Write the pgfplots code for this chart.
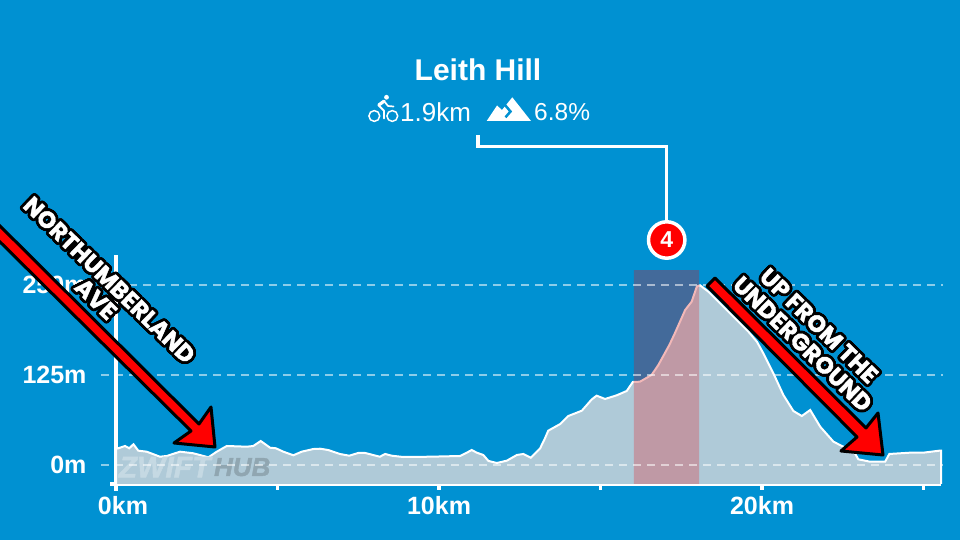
\documentclass[border=0pt]{standalone}
\usepackage{fontspec}
\usepackage{pgfplots}
\usepackage{pgfplotstable}
\usepackage{contour}
\pgfplotsset{compat=1.18}
\setmainfont{Liberation Sans}
\newfontfamily\pop[BoldFeatures={FakeBold=1.6}]{Poppins}
\newfontfamily\wmfont[BoldItalicFeatures={FakeBold=1.5}]{Liberation Sans}
\contourlength{2.8pt}
\contournumber{24}
\definecolor{bg}{HTML}{0091D2}
\definecolor{areafill}{HTML}{AFCAD8}
\definecolor{hlblue}{HTML}{436A9A}
\definecolor{hlpink}{HTML}{BF99A5}
\definecolor{hlline}{HTML}{F2B8B8}
\definecolor{arrowred}{HTML}{FF0000}
\pgfplotstableread{
km m
0 -26.4
0.00 23.2
0.07 23.2
0.28 26.4
0.41 23.2
0.54 28.8
0.69 19.9
0.95 18.5
1.36 11.5
1.57 12.5
1.98 18.5
2.39 16.3
2.86 10.7
3.12 18.5
3.43 26.4
4.05 25.4
4.25 26.4
4.48 33.3
4.77 24.0
4.95 23.2
5.18 18.5
5.49 13.5
5.75 18.5
6.11 22.2
6.32 22.6
6.57 20.8
6.93 15.3
7.22 12.9
7.50 16.7
7.71 16.7
8.17 11.5
8.33 15.3
8.54 12.9
8.89 11.1
9.72 11.5
10.65 12.5
10.86 17.1
11.01 20.8
11.17 17.1
11.37 13.9
11.53 5.6
11.79 2.8
12.10 6.0
12.41 13.9
12.61 15.3
12.84 10.1
13.13 23.2
13.28 37.1
13.38 47.6
13.75 56.9
14.00 68.0
14.42 75.4
14.73 91.2
14.88 96.3
15.14 91.7
15.50 96.8
15.81 102.8
16.00 115.3
16.22 115.7
16.58 125.0
16.79 138.9
17.13 166.7
17.30 182.9
17.62 215.3
17.82 226.8
17.98 247.6
18.08 249.6
18.34 240.7
19.58 185.1
19.84 171.3
20.04 155.1
20.35 127.4
20.66 97.2
20.97 75.0
21.23 68.0
21.49 76.4
21.80 53.2
22.21 32.4
22.47 26.4
22.83 19.9
22.98 7.9
23.34 4.6
23.81 4.6
23.94 15.3
24.58 17.1
24.99 17.1
25.49 19.9
25.54 19.9
25.54 -26.4
}\profile
\pgfplotstableread{
km m
16.03 -26.4
16.03 115.4
16.22 115.7
16.58 125.0
16.79 138.9
17.13 166.7
17.30 182.9
17.62 215.3
17.82 226.8
17.98 247.6
18.05 249.4
18.05 -26.4
}\climb
\begin{document}
\begin{tikzpicture}
\useasboundingbox (0,0) rectangle (960pt,540pt);
\fill[bg] (0,0) rectangle (960pt,540pt);
\begin{axis}[
  at={(116pt,56pt)}, anchor=south west,
  scale only axis, width=825pt, height=229pt,
  xmin=0, xmax=25.54, ymin=-26.4, ymax=291.7,
  clip=false,
  axis x line=bottom, axis y line=left,
  axis line style={white, line width=3.6pt, -},
  xtick={0,5,10,15,20,25},
  xticklabels={\hspace{14pt}0km,,10km,,20km,},
  ytick={0,125,250},
  yticklabels={0m,125m,250m},
  /pgf/number format/assume math mode=true,
  tick align=outside,
  x tick style={white, line width=3.6pt},
  y tick style={draw=none},
  major tick length=6pt,
  tick label style={font=\fontsize{25}{27}\selectfont\bfseries, text=white},
  x tick label style={yshift=-3pt},
  y tick label style={xshift=-20pt},
]
\addplot[fill=areafill, draw=white, line width=2pt] table {\profile};
\addplot[fill=hlblue, draw=none] coordinates {(16.03,115) (16.03,270.8) (18.05,270.8) (18.05,249) (17.98,247.6) (17.82,226.8) (17.62,215.3) (17.30,182.9) (17.13,166.7) (16.79,138.9) (16.58,125) (16.22,115.7)};
\addplot[fill=hlpink, draw=none] table {\climb};
\addplot[hlline, line width=2pt] coordinates {(16.03,115.4) (16.22,115.7) (16.58,125) (16.79,138.9) (17.13,166.7) (17.30,182.9) (17.62,215.3) (17.82,226.8) (17.98,247.6) (18.05,249.4)};
\node[anchor=west, inner sep=0, text=white!28!areafill, font=\wmfont\fontsize{30}{30}\selectfont\bfseries\itshape] at (axis cs:0.08,-3) {ZWIFT};
\node[anchor=west, inner sep=0, text=black!18!areafill, font=\wmfont\fontsize{26}{27}\selectfont\bfseries\itshape] at (axis cs:3.03,-3) {HUB};
\addplot[white, opacity=0.55, line width=1.5pt, dash pattern=on 8pt off 6pt] coordinates {(-0.46,0) (25.6,0)};
\addplot[white, opacity=0.55, line width=1.5pt, dash pattern=on 8pt off 6pt] coordinates {(-0.46,125) (25.6,125)};
\addplot[white, opacity=0.55, line width=1.5pt, dash pattern=on 8pt off 6pt] coordinates {(-0.46,250) (25.6,250)};
\end{axis}
% everything below is in reference pixels, y downwards
\begin{scope}[x=1pt, y=-1pt, shift={(0pt,540pt)}]
\draw[white, line width=3.6pt] (110,484) -- (116,484);
\draw[white, line width=3.6pt] (116,484) -- (116,491);
% title block
\node[text=white, font=\fontsize{30}{32}\selectfont\bfseries] at (478,70) {Leith Hill};
\node[anchor=west, inner sep=0, text=white, font=\fontsize{26}{28}\selectfont] at (400,112) {1.9km};
\node[anchor=west, inner sep=0, text=white, font=\fontsize{24.5}{28}\selectfont] at (534,112) {6.8\%};
% bike icon
\draw[white, line width=1.5pt] (374.3,116) circle (5.4) (392.3,116) circle (5.4);
\fill[white] (386.5,97.3) circle (2.4);
\draw[white, line width=3.2pt, line cap=round] (378.8,105) -- (384,101.2);
\draw[white, line width=1.7pt, line join=round, line cap=round] (384,101) -- (388,106) -- (393.5,106.5);
\draw[white, line width=1.9pt, line join=round, line cap=round] (378.8,105.5) -- (384,110.8) -- (384,118.5);
% mountain icon
\fill[white] (486.7,121) -- (497,105.5) -- (502,110) -- (512.3,97.3) -- (531,121) -- cycle;
\draw[bg, line width=2.5pt, line join=miter] (505,105) -- (510.5,111.5) -- (505.5,117.3);
% leader and badge
\draw[white, line width=3.6pt, line join=miter] (477.7,135) -- (477.7,146.7) -- (666.5,146.7) -- (666.5,222);
\draw[white, fill=arrowred, line width=3.5pt] (666.7,240) circle (18.2);
\node[text=white, font=\fontsize{23}{25}\selectfont\bfseries] at (666.7,240) {4};
% callouts
\draw[black, fill=arrowred, line width=3pt, line join=round] (-10,216) -- (199,424) -- (211,407) -- (215,447) -- (174,443) -- (191,431) -- (-10,232) -- cycle;
\draw[black, fill=arrowred, line width=3pt, line join=round] (715,278) -- (866,428) -- (878,413) -- (883,455) -- (841,451) -- (857,437) -- (707,286) -- cycle;
\node[rotate=-44, text=white, font=\pop\fontsize{23.5}{25}\selectfont\bfseries] at (108.5,281) {\contour{black}{NORTHUMBERLAND}};
\node[rotate=-44, text=white, font=\pop\fontsize{23.5}{25}\selectfont\bfseries] at (95,300) {\contour{black}{AVE}};
\node[rotate=-44, text=white, font=\pop\fontsize{23.5}{25}\selectfont\bfseries] at (818,326.7) {\contour{black}{UP FROM THE}};
\node[rotate=-44, text=white, font=\pop\fontsize{23.5}{25}\selectfont\bfseries] at (801.7,345) {\contour{black}{UNDERGROUND}};
\end{scope}
\end{tikzpicture}
\end{document}
